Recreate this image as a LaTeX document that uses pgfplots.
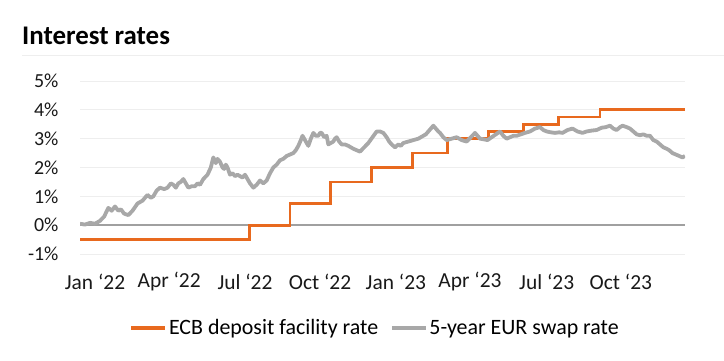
\documentclass[border=0pt]{standalone}
\usepackage{pgfplots}
\pgfplotsset{compat=1.18}
\usepackage{fontspec}
\setmainfont{Carlito}
\definecolor{ingorange}{HTML}{E8691E}
\definecolor{swapgray}{HTML}{A8A8A8}
\definecolor{zerogray}{HTML}{A0A0A0}
\definecolor{gridgray}{HTML}{EEEEEE}
\begin{document}
\begin{tikzpicture}
\path[use as bounding box] (0bp,0bp) rectangle (724bp,361bp);
\node[anchor=base west, font=\fontsize{27}{29}\selectfont\bfseries, inner sep=0] at (22bp,316bp) {Interest rates};
\draw[color=gridgray, line width=0.8bp] (22bp,306bp) -- (724bp,306bp);
\begin{axis}[
  at={(80bp,107bp)}, anchor=south west, scale only axis,
  width=605bp, height=173bp,
  xmin=4, xmax=730, ymin=-1, ymax=5,
  axis line style={draw=none},
  major tick length=0pt,
  ymajorgrids, grid style={color=gridgray, line width=0.8bp},
  ytick={-1,0,1,2,3,4,5},
  yticklabels={-1\%,0\%,1\%,2\%,3\%,4\%,5\%},
  xtick={22,111,202,292,383,472,564,653},
  xticklabels={Jan ‘22,Apr ‘22,Jul ‘22,Oct ‘22,Jan ‘23,Apr ‘23,Jul ‘23,Oct ‘23},
  tick label style={font=\fontsize{20}{22}\selectfont, text=black!90},
  xticklabel style={font=\fontsize{21.5}{23}\selectfont},
  /pgf/number format/assume math mode=true,
  yticklabel style={anchor=east, xshift=-18bp},
  xticklabel style={anchor=center, yshift=-28bp},
  legend style={at={(0.488,-0.428)}, anchor=center, draw=none, fill=none,
    font=\fontsize{22}{24}\selectfont, legend columns=2,
    /tikz/every even column/.append style={column sep=10bp},
    /tikz/every odd column/.append style={column sep=0bp},
    nodes={inner xsep=2bp}},
  legend cell align=left,
  legend image code/.code={\draw[#1, line width=3.2bp] (0bp,0bp) -- (34bp,0bp);},
]
\addplot[forget plot, color=zerogray, line width=1.8bp] coordinates {(4,0) (730,0)};
\addplot[color=ingorange, line width=2.8bp, const plot] coordinates {
(4,-0.5) (207,0.0) (256,0.75) (305,1.5) (354,2.0) (403,2.5) (445,3.0)
(494,3.25) (536,3.5) (578,3.75) (628,4.0) (730,4.0)};
\addlegendentry{ECB deposit facility rate}
\addplot[color=swapgray, line width=3.8bp, line join=round] coordinates {
(4,0.05) (10,0.02) (16,0.08) (22,0.05) (28,0.15) (33,0.3) (38,0.6) (42,0.5) (46,0.65)
(50,0.5) (53,0.55) (57,0.4) (62,0.35) (67,0.5) (73,0.75) (79,0.85) (85,1.05) (89,0.95)
(92,1.0) (96,1.2) (100,1.3) (105,1.25) (109,1.3) (113,1.45) (116,1.4) (119,1.3) (122,1.45)
(125,1.5) (128,1.6) (131,1.45) (134,1.3) (138,1.35) (142,1.35) (145,1.45) (148,1.4)
(152,1.6) (157,1.75) (161,2.0) (164,2.35) (167,2.15) (169,2.3) (172,2.2) (175,2.0)
(177,1.95) (179,2.1) (181,2.0) (184,1.75) (187,1.8) (190,1.7) (193,1.75) (196,1.7)
(199,1.65) (202,1.75) (205,1.6) (208,1.45) (212,1.3) (216,1.4) (220,1.55) (224,1.45)
(228,1.55) (232,1.8) (236,2.0) (240,2.1) (244,2.25) (248,2.3) (252,2.4) (256,2.45)
(260,2.5) (263,2.6) (266,2.75) (269,2.95) (271,3.1) (274,2.95) (278,2.75) (281,3.0)
(284,3.2) (287,3.1) (290,3.1) (292,3.2) (294,3.2) (297,3.05) (300,3.1) (302,2.8)
(305,2.85) (308,2.9) (310,3.0) (312,3.05) (315,2.9) (318,2.8) (322,2.8) (326,2.75)
(329,2.7) (332,2.65) (336,2.6) (340,2.55) (345,2.7) (350,2.85) (355,3.05) (360,3.25)
(364,3.25) (368,3.2) (372,3.05) (375,2.9) (378,2.8) (382,2.7) (386,2.8) (389,2.75)
(392,2.85) (398,2.9) (404,2.95) (410,3.0) (416,3.1) (419,3.15) (422,3.25) (425,3.35)
(428,3.45) (431,3.35) (434,3.25) (436,3.2) (440,3.05) (444,2.95) (450,3.0) (456,3.05)
(462,2.95) (468,2.9) (473,3.05) (478,3.2) (481,3.1) (484,3.0) (488,2.98) (493,2.95)
(498,3.05) (503,3.15) (508,3.25) (512,3.1) (516,3.0) (520,3.05) (524,3.1) (528,3.1)
(533,3.15) (538,3.2) (544,3.25) (550,3.35) (556,3.4) (560,3.3) (564,3.25) (569,3.22)
(574,3.2) (579,3.22) (583,3.2) (589,3.3) (595,3.35) (601,3.25) (607,3.2) (612,3.25)
(618,3.28) (624,3.3) (630,3.38) (635,3.4) (640,3.45) (644,3.35) (648,3.3) (652,3.4)
(655,3.45) (660,3.4) (664,3.35) (668,3.25) (672,3.15) (676,3.12) (680,3.15) (684,3.1)
(688,3.1) (692,2.95) (696,2.9) (700,2.8) (704,2.7) (708,2.65) (711,2.6) (715,2.5)
(719,2.45) (723,2.4) (727,2.35) (730,2.4)};
\addlegendentry{5-year EUR swap rate}
\end{axis}
\end{tikzpicture}
\end{document}
